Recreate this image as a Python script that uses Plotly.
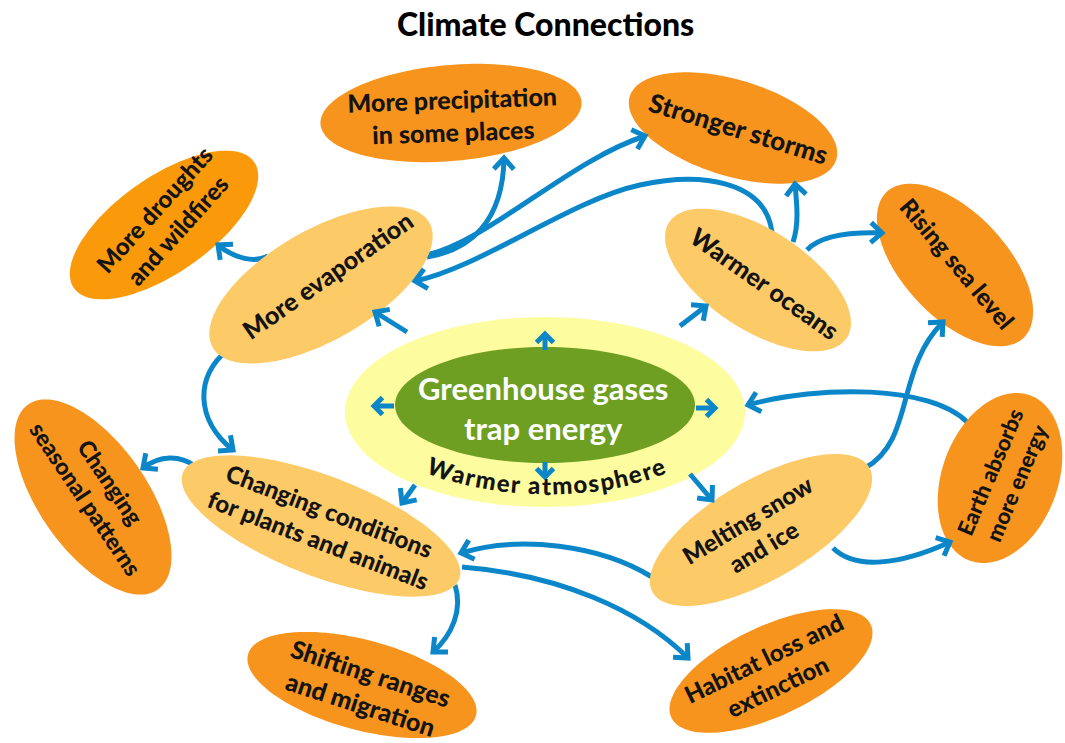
import numpy as np
import plotly.graph_objects as go

W, H = 1065, 743
TITLE = "Climate Connections"
CENTER_LABEL = "Greenhouse gases<br>trap energy"
RING_LABEL = "Warmer atmosphere"

BLUE = "#0B87C9"
DARK = "#F7941D"
DROUGHT = "#FA9A0B"
LIGHT = "#FDCA68"
YELLOW = "#FDFC9E"
GREEN = "#6E9F23"
INK = "#141414"
FONT = "Lato"

# ---- nodes -------------------------------------------------------------
labels = ["More precipitation<br>in some places", "Stronger storms",
          "More droughts<br>and wildfires", "More evaporation", "Warmer oceans",
          "Rising sea level", "Changing<br>seasonal patterns",
          "Changing conditions<br>for plants and animals", "Melting snow<br>and ice",
          "Earth absorbs<br>more energy", "Shifting ranges<br>and migration",
          "Habitat loss and<br>extinction"]
node_x = [451, 733, 164, 321, 758, 955, 93, 321, 761, 1000, 362, 771]
node_y = [113, 128, 225, 285, 280, 265, 497, 526, 530, 478, 685, 671]
node_a = [131, 108, 110, 125, 106, 100, 113, 148, 125, 88, 118, 110]
node_b = [48, 48, 48, 55, 50, 52, 54, 50, 50, 58, 45, 45]
node_rot = [-5, 17, -35, -30, 33, 47, 55, 21, -30, -70, 15, -25]
node_fill = [DARK, DARK, DROUGHT, LIGHT, LIGHT, DARK, DARK, LIGHT, LIGHT, DARK, DARK, DARK]
text_x = [453, 738, 165, 327, 765, 958, 98, 324, 755, 1003, 366, 770]
text_y = [115, 128, 220, 275, 283, 263, 490, 525, 533, 478, 688, 672]
text_rot = [-2, 17, -48, -35, 35, 50, 56, 21, -31, -67, 18, -26]
text_size = [25, 26, 24, 25, 25, 24, 23, 24, 24, 22, 25, 24]

# ---- arrows (cubic bezier control points, or straight 2-point) ---------
arrow_paths = [
    [(268, 256), (255, 263), (235, 259), (218, 245)],           # evaporation -> droughts
    [(427, 257), (470, 250), (503, 222), (504, 158)],           # evaporation -> precipitation
    [(427, 255), (490, 240), (570, 160), (645, 136)],           # evaporation -> storms
    [(772, 232), (765, 180), (700, 172), (640, 185),
     (570, 200), (480, 268), (415, 281)],                       # oceans -> evaporation
    [(793, 242), (799, 225), (797, 205), (795, 184)],           # oceans -> storms
    [(807, 250), (820, 236), (850, 232), (882, 233)],           # oceans -> sea level
    [(228, 350), (195, 375), (195, 420), (233, 450)],           # evaporation -> plants
    [(195, 466), (180, 455), (160, 455), (143, 468)],           # plants -> seasonal
    [(455, 585), (463, 610), (452, 635), (433, 652)],           # plants -> ranges
    [(462, 567), (560, 575), (640, 610), (688, 658)],           # plants -> habitat
    [(652, 577), (600, 545), (520, 535), (461, 553)],           # melting -> plants
    [(865, 468), (915, 440), (895, 370), (943, 322)],           # melting -> sea level
    [(833, 548), (855, 570), (900, 565), (950, 542)],           # melting -> earth
    [(967, 422), (930, 385), (820, 385), (748, 405)],           # earth -> atmosphere
    [(407, 332), (375, 312)],                                   # atmosphere -> evaporation
    [(680, 326), (706, 306)],                                   # atmosphere -> oceans
    [(415, 485), (402, 503)],                                   # atmosphere -> plants
    [(690, 474), (712, 500)],                                   # atmosphere -> melting
]
center_arrows = [
    [(545, 350), (545, 334)],
    [(545, 462), (545, 477)],
    [(394, 406), (374, 406)],
    [(696, 408), (715, 408)],
]


def ellipse_path(cx, cy, a, b, rot, n=120):
    th = np.radians(rot)
    t = np.linspace(0, 2 * np.pi, n, endpoint=False)
    xs = cx + a * np.cos(t) * np.cos(th) - b * np.sin(t) * np.sin(th)
    ys = cy + a * np.cos(t) * np.sin(th) + b * np.sin(t) * np.cos(th)
    pts = [f"{x:.2f},{y:.2f}" for x, y in zip(xs, ys)]
    return "M " + " L ".join(pts) + " Z"


def curve_path(pts):
    s = f"M {pts[0][0]},{pts[0][1]}"
    if len(pts) == 2:
        return s + f" L {pts[1][0]},{pts[1][1]}"
    for i in range(1, len(pts), 3):
        c1, c2, p = pts[i], pts[i + 1], pts[i + 2]
        s += f" C {c1[0]},{c1[1]} {c2[0]},{c2[1]} {p[0]},{p[1]}"
    return s


def head_path(pts, L=15, ang=42):
    tip = np.array(pts[-1], float)
    prev = np.array(pts[-2], float)
    d = tip - prev
    d /= np.linalg.norm(d)
    back = -d
    arms = []
    for s in (1, -1):
        a = np.radians(s * ang)
        r = np.array([back[0] * np.cos(a) - back[1] * np.sin(a),
                      back[0] * np.sin(a) + back[1] * np.cos(a)])
        arms.append(tip + L * r)
    return (f"M {arms[0][0]:.2f},{arms[0][1]:.2f} L {tip[0]:.2f},{tip[1]:.2f} "
            f"L {arms[1][0]:.2f},{arms[1][1]:.2f}")


shapes = []
shapes.append(dict(type="path", path=ellipse_path(545, 412, 200, 95, 0),
                   fillcolor=YELLOW, line=dict(width=0), layer="above"))
shapes.append(dict(type="path", path=ellipse_path(545, 405, 150, 58, 0),
                   fillcolor=GREEN, line=dict(width=0), layer="above"))
for p in arrow_paths:
    shapes.append(dict(type="path", path=curve_path(p),
                       line=dict(color=BLUE, width=5), layer="above"))
for cx, cy, a, b, r, c in zip(node_x, node_y, node_a, node_b, node_rot, node_fill):
    shapes.append(dict(type="path", path=ellipse_path(cx, cy, a, b, r),
                       fillcolor=c, line=dict(width=0), layer="above"))
for p in arrow_paths:
    shapes.append(dict(type="path", path=head_path(p),
                       line=dict(color=BLUE, width=5), layer="above"))
for p in center_arrows:
    shapes.append(dict(type="path", path=curve_path(p),
                       line=dict(color=BLUE, width=5), layer="above"))
    shapes.append(dict(type="path", path=head_path(p, L=12, ang=45),
                       line=dict(color=BLUE, width=5), layer="above"))

annotations = []
annotations.append(dict(x=545, y=23, text=TITLE, showarrow=False,
                        xanchor="center", yanchor="middle",
                        font=dict(family=FONT, size=32, color="#000000", weight=900)))
annotations.append(dict(x=543, y=408, text=CENTER_LABEL, showarrow=False,
                        xanchor="center", yanchor="middle",
                        font=dict(family=FONT, size=31, color="white", weight=700)))
for t, x, y, r, s in zip(labels, text_x, text_y, text_rot, text_size):
    annotations.append(dict(x=x, y=y, text=t, showarrow=False, textangle=r,
                            xanchor="center", yanchor="middle",
                            font=dict(family=FONT, size=s, color=INK, weight=900)))

# curved "Warmer atmosphere" along the yellow ring
cw = {"W": 0.95, "a": 0.55, "r": 0.40, "m": 0.85, "e": 0.55, " ": 0.25,
      "t": 0.40, "o": 0.58, "s": 0.47, "p": 0.58, "h": 0.58}
widths = np.array([cw[c] for c in RING_LABEL])
acx, acy, aa, ab = 547, 412, 165, 73
phi0 = np.arccos((430 - acx) / aa)
phi1 = np.arccos((664 - acx) / aa)
phis = np.linspace(phi0, phi1, 2000)
px = acx + aa * np.cos(phis)
py = acy + ab * np.sin(phis)
seg = np.hypot(np.diff(px), np.diff(py))
cum = np.concatenate([[0], np.cumsum(seg)])
S = cum[-1]
starts = np.concatenate([[0], np.cumsum(widths)[:-1]])
centers = (starts + widths / 2) / widths.sum() * S
for ch, sc in zip(RING_LABEL, centers):
    if ch == " ":
        continue
    i = min(int(np.searchsorted(cum, sc)), len(phis) - 1)
    ph = phis[i]
    ang = np.degrees(np.arctan2(-ab * np.cos(ph), aa * np.sin(ph)))
    annotations.append(dict(x=float(px[i]), y=float(py[i]), text=ch, showarrow=False,
                            textangle=float(ang), xanchor="center", yanchor="middle",
                            font=dict(family=FONT, size=24, color=INK, weight=900)))

fig = go.Figure(go.Scatter(x=[], y=[]))
fig.update_layout(
    width=W, height=H,
    margin=dict(l=0, r=0, t=0, b=0),
    paper_bgcolor="white", plot_bgcolor="white",
    xaxis=dict(range=[0, W], visible=False, fixedrange=True),
    yaxis=dict(range=[H, 0], visible=False, fixedrange=True),
    shapes=shapes, annotations=annotations, showlegend=False,
)
fig.write_html("out.html",
               config={"displayModeBar": False},
               post_script="document.body.style.margin='0px';"
                           "document.body.style.overflow='hidden';")
